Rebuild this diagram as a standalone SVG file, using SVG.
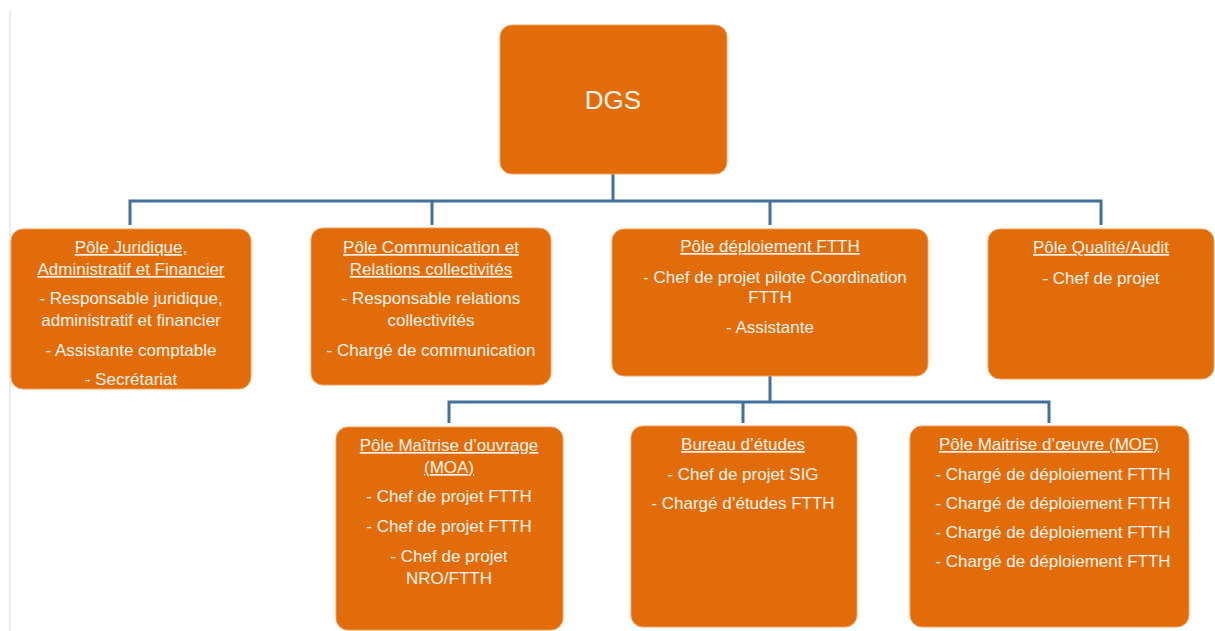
<svg xmlns="http://www.w3.org/2000/svg" width="1215" height="631" viewBox="0 0 1215 631">
<style>
.box{fill:#E36C0A;stroke:#F0A060;stroke-width:1}
.t{font-family:"Liberation Sans",Arial,sans-serif;font-size:17px;fill:#FFF3EA;text-anchor:middle}
.u{text-decoration:underline}
.conn{fill:none;stroke:#41719C;stroke-width:3}
</style>
<rect width="1215" height="631" fill="#ffffff"/>
<line x1="10" y1="10" x2="10" y2="631" stroke="#D9D9D9" stroke-width="1"/>
<g id="connectors">
<path class="conn" d="M613 174 V201 M130 225 V201 H1101 V225 M432 201 V225 M770 201 V225"/>
<path class="conn" d="M770 376 V402 M449 423 V402 H1049 V423 M743 402 V423"/>
</g>
<g id="dgs">
<rect class="box" x="500" y="25" width="227" height="149" rx="12"/>
<text class="t" x="613" y="109" style="font-size:26px">DGS</text>
</g>
<g id="pole-juridique">
<rect class="box" x="11" y="229" width="240" height="160" rx="12"/>
<text class="t u" x="131" y="253">Pôle Juridique,</text>
<text class="t u" x="131" y="275">Administratif et Financier</text>
<text class="t" x="131" y="304">- Responsable juridique,</text>
<text class="t" x="131" y="326">administratif et financier</text>
<text class="t" x="131" y="356">- Assistante comptable</text>
<text class="t" x="131" y="385">- Secrétariat</text>
</g>
<g id="pole-communication">
<rect class="box" x="311" y="228" width="240" height="157" rx="12"/>
<text class="t u" x="431" y="253">Pôle Communication et</text>
<text class="t u" x="431" y="275">Relations collectivités</text>
<text class="t" x="431" y="304">- Responsable relations</text>
<text class="t" x="431" y="326">collectivités</text>
<text class="t" x="431" y="356">- Chargé de communication</text>
</g>
<g id="pole-deploiement">
<rect class="box" x="612" y="229" width="316" height="147" rx="12"/>
<text class="t u" x="770" y="252">Pôle déploiement FTTH</text>
<text class="t" x="775" y="283">- Chef de projet pilote Coordination</text>
<text class="t" x="770" y="303">FTTH</text>
<text class="t" x="770" y="333">- Assistante</text>
</g>
<g id="pole-qualite">
<rect class="box" x="988" y="229" width="226" height="150" rx="12"/>
<text class="t u" x="1101" y="253">Pôle Qualité/Audit</text>
<text class="t" x="1101" y="284">- Chef de projet</text>
</g>
<g id="pole-moa">
<rect class="box" x="336" y="427" width="227" height="203" rx="12"/>
<text class="t u" x="449" y="451">Pôle Maîtrise d’ouvrage</text>
<text class="t u" x="449" y="473">(MOA)</text>
<text class="t" x="449" y="502">- Chef de projet FTTH</text>
<text class="t" x="449" y="532">- Chef de projet FTTH</text>
<text class="t" x="449" y="562">- Chef de projet</text>
<text class="t" x="449" y="584">NRO/FTTH</text>
</g>
<g id="bureau-etudes">
<rect class="box" x="631" y="426" width="226" height="201" rx="12"/>
<text class="t u" x="743" y="450">Bureau d’études</text>
<text class="t" x="743" y="480">- Chef de projet SIG</text>
<text class="t" x="743" y="509">- Chargé d’études FTTH</text>
</g>
<g id="pole-moe">
<rect class="box" x="910" y="426" width="279" height="201" rx="12"/>
<text class="t u" x="1049" y="450">Pôle Maitrise d’œuvre (MOE)</text>
<text class="t" x="1053" y="480">- Chargé de déploiement FTTH</text>
<text class="t" x="1053" y="509">- Chargé de déploiement FTTH</text>
<text class="t" x="1053" y="538">- Chargé de déploiement FTTH</text>
<text class="t" x="1053" y="567">- Chargé de déploiement FTTH</text>
</g>
</svg>
